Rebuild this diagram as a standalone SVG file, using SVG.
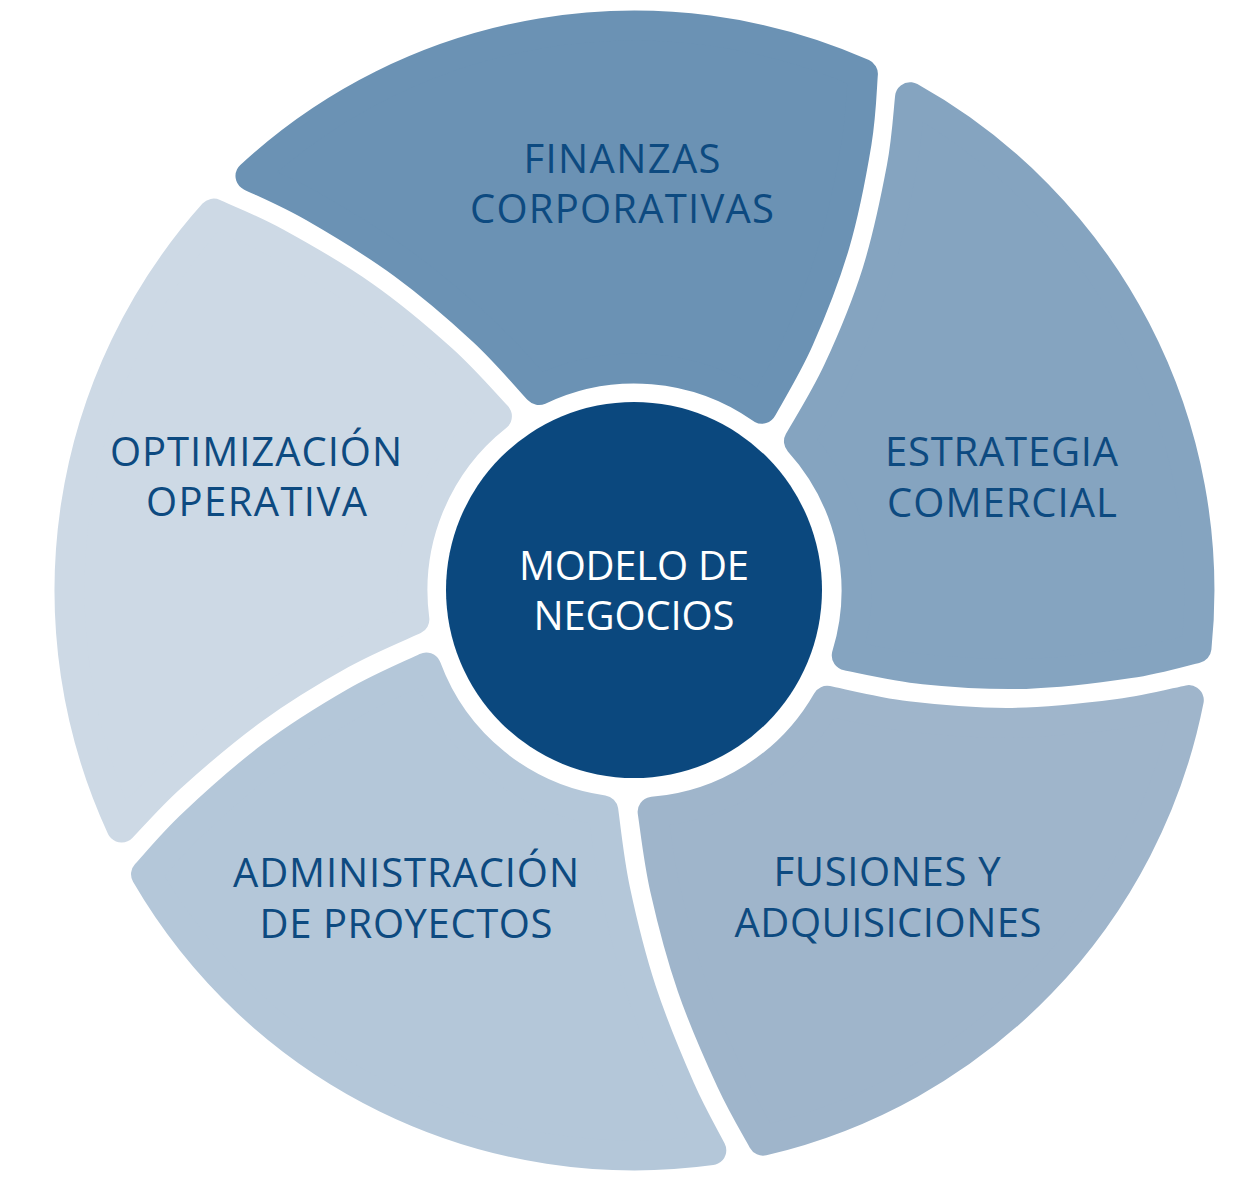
<svg xmlns="http://www.w3.org/2000/svg" width="1251" height="1180" viewBox="0 0 1251 1180">
<style>
.petal{stroke-width:30;stroke-linejoin:round}
.lbl{font-family:"Open Sans","Noto Sans","Liberation Sans",sans-serif;font-size:40px;fill:#0d4a80;text-anchor:middle}
.ctr{fill:#ffffff}
</style>
<rect width="1251" height="1180" fill="#ffffff"/>
<g id="connectors"></g>
<g id="node-finanzas">
<path class="petal" fill="#6b92b4" stroke="#6b92b4" d="M 250.5 176 A 565 565 0 0 1 862.9 73.8 C 861.9 85.3 861.3 114.1 856.6 142.5 C 851.9 170.9 844.3 211.4 834.7 244.2 C 825.1 277 811 312.1 798.9 339.5 C 786.8 366.9 768.1 397.2 761.9 408.7 A 222 222 0 0 0 538.9 390.1 C 529.7 380.3 506.1 352.2 483.5 331.2 C 460.9 310.2 431.6 284.8 403.3 264.1 C 375 243.4 339 221.8 313.5 207.1 C 288 192.4 261 181.2 250.5 176 Z"/>
<text class="lbl" x="622" y="173" textLength="197">FINANZAS</text>
<text class="lbl" x="622" y="223" textLength="304">CORPORATIVAS</text>
</g>
<g id="node-estrategia">
<path class="petal" fill="#85a4c0" stroke="#85a4c0" transform="rotate(72 634.5 590.5)" d="M 250.5 176 A 565 565 0 0 1 862.9 73.8 C 861.9 85.3 861.3 114.1 856.6 142.5 C 851.9 170.9 844.3 211.4 834.7 244.2 C 825.1 277 811 312.1 798.9 339.5 C 786.8 366.9 768.1 397.2 761.9 408.7 A 222 222 0 0 0 543.5 388 C 534.3 378.1 510.9 349.8 488.1 328.7 C 465.3 307.6 435.7 282 406.9 261.5 C 378.1 241 341.2 220.1 315.1 205.8 C 289 191.6 261.3 181 250.5 176 Z"/>
<text class="lbl" x="1001.5" y="466" textLength="233">ESTRATEGIA</text>
<text class="lbl" x="1002" y="517" textLength="230">COMERCIAL</text>
</g>
<g id="node-fusiones">
<path class="petal" fill="#9fb5cb" stroke="#9fb5cb" transform="rotate(144 634.5 590.5)" d="M 250.5 176 A 565 565 0 0 1 853.9 69.9 C 852.4 81.1 850.1 109 844.6 136.8 C 839.1 164.6 830.6 204.1 820.7 236.5 C 810.8 268.9 797 303.7 785.2 331.1 C 773.4 358.5 755.8 389.2 749.9 400.8 A 222 222 0 0 0 543.5 388 C 534.3 378.1 510.9 349.8 488.1 328.7 C 465.3 307.6 435.7 282 406.9 261.5 C 378.1 241 341.2 220.1 315.1 205.8 C 289 191.6 261.3 181 250.5 176 Z"/>
<text class="lbl" x="887" y="886" textLength="227">FUSIONES Y</text>
<text class="lbl" x="888" y="937" textLength="307">ADQUISICIONES</text>
</g>
<g id="node-administracion">
<path class="petal" fill="#b4c7d9" stroke="#b4c7d9" transform="rotate(216 634.5 590.5)" d="M 243.4 182.8 A 565 565 0 0 1 862.9 73.8 C 861.5 85.1 860 113.5 854.7 141.5 C 849.4 169.6 841 209.6 831 242.1 C 821 274.6 806.7 309.4 794.5 336.7 C 782.3 364 763.8 394.3 757.7 405.8 A 222 222 0 0 0 530.6 394.3 C 521.2 384.7 497 357.5 474.2 336.9 C 451.4 316.4 422.1 291.4 393.9 271 C 365.7 250.6 330.1 229 305 214.3 C 279.9 199.6 253.7 188.1 243.4 182.8 Z"/>
<text class="lbl" x="406" y="887" textLength="346">ADMINISTRACIÓN</text>
<text class="lbl" x="406" y="938" textLength="293">DE PROYECTOS</text>
</g>
<g id="node-optimizacion">
<path class="petal" fill="#cdd9e5" stroke="#cdd9e5" transform="rotate(288 634.5 590.5)" d="M 250.5 176 A 565 565 0 0 1 862.9 73.8 C 861.5 85.1 860 113.5 854.7 141.5 C 849.4 169.6 841 209.6 831 242.1 C 821 274.6 806.7 309.4 794.5 336.7 C 782.3 364 763.8 394.3 757.7 405.8 A 222 222 0 0 0 538.9 390.1 C 529.7 380.3 506.1 352.2 483.5 331.2 C 460.9 310.2 431.6 284.8 403.3 264.1 C 375 243.4 339 221.8 313.5 207.1 C 288 192.4 261 181.2 250.5 176 Z"/>
<text class="lbl" x="256" y="466" textLength="292">OPTIMIZACIÓN</text>
<text class="lbl" x="256.5" y="516" textLength="221">OPERATIVA</text>
</g>
<g id="node-modelo">
<circle cx="634" cy="590" r="188" fill="#0b487e"/>
<text class="lbl ctr" x="634" y="580" textLength="230">MODELO DE</text>
<text class="lbl ctr" x="634" y="630" textLength="201">NEGOCIOS</text>
</g>
</svg>
